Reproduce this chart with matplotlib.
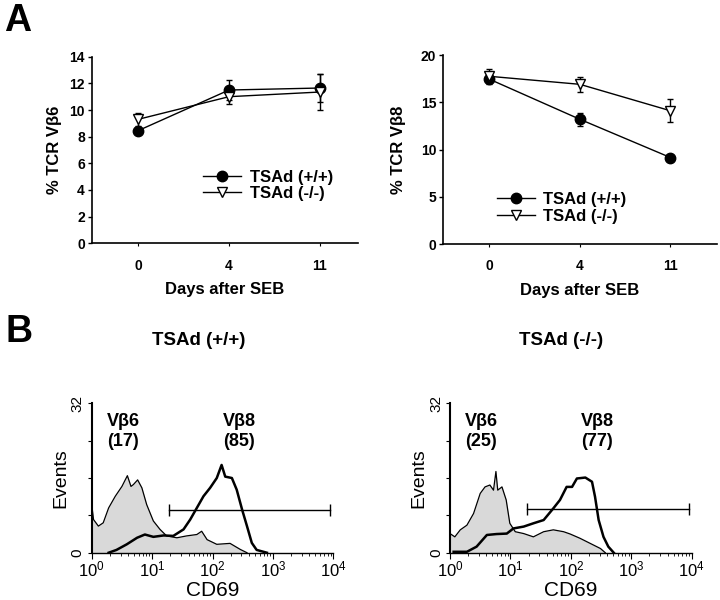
import numpy as np
import matplotlib.pyplot as plt
from matplotlib.ticker import LogLocator, LogFormatterSciNotation

plt.rcParams['font.family'] = ['Liberation Sans', 'DejaVu Sans']

# panel A: % TCR V beta after SEB
days = ['0', '4', '11']
vb6_wt = [8.45, 11.5, 11.65]
vb6_wt_err = [0.2, 0.75, 1.05]
vb6_ko = [9.3, 11.0, 11.35]
vb6_ko_err = [0.5, 0.55, 1.35]
vb8_wt = [17.45, 13.2, 9.15]
vb8_wt_err = [0.55, 0.7, 0.3]
vb8_ko = [17.75, 16.9, 14.1]
vb8_ko_err = [0.75, 0.8, 1.2]

# panel B: CD69 histograms (log10 CD69, events)
wt_vb6_logx = [0, 0.03, 0.11, 0.19, 0.28, 0.39, 0.5, 0.59, 0.65, 0.69, 0.76, 0.83, 0.91,
               1.02, 1.13, 1.24, 1.41, 1.57, 1.74, 1.82, 1.91, 2.07, 2.29, 2.46, 2.57]
wt_vb6_cnt = [10.3, 7.1, 5.7, 6.4, 9.6, 12.1, 14.2, 16.5, 14.2, 14.6, 15.6, 13.9, 10.3,
              6.8, 5.0, 3.6, 3.2, 3.6, 3.9, 4.6, 2.8, 1.8, 2.0, 0.7, 0]
wt_vb8_logx = [0.28, 0.41, 0.58, 0.75, 0.88, 1.02, 1.19, 1.35, 1.52, 1.63, 1.74, 1.85,
               1.96, 2.07, 2.15, 2.21, 2.32, 2.4, 2.49, 2.57, 2.65, 2.73, 2.9]
wt_vb8_cnt = [0, 0.6, 1.8, 3.2, 3.9, 3.4, 3.7, 3.6, 5.0, 7.1, 9.6, 12.1,
              13.9, 16.0, 18.8, 16.3, 16.0, 13.5, 9.2, 5.7, 2.1, 0.6, 0]
ko_vb6_logx = [0, 0.08, 0.17, 0.28, 0.39, 0.5, 0.58, 0.66, 0.72, 0.76, 0.79, 0.86, 0.93,
               0.99, 1.08, 1.22, 1.38, 1.55, 1.71, 1.88, 1.99, 2.15, 2.32, 2.49, 2.57]
ko_vb6_cnt = [4.1, 3.4, 4.9, 5.9, 8.4, 12.7, 14.1, 14.5, 13.4, 17.4, 13.4, 14.1, 11.3,
              6.3, 4.5, 4.1, 3.4, 4.5, 4.9, 4.5, 4.0, 3.1, 2.0, 0.9, 0]
ko_vb8_logx = [0.06, 0.28, 0.44, 0.61, 0.77, 0.94, 1.05, 1.22, 1.38, 1.55, 1.71, 1.82,
               1.93, 2.02, 2.1, 2.24, 2.35, 2.4, 2.46, 2.54, 2.62, 2.71]
ko_vb8_cnt = [0.2, 0.2, 1.3, 3.8, 4.0, 4.1, 5.2, 5.6, 6.3, 7.0, 9.5, 11.3,
              14.1, 14.1, 15.9, 16.1, 15.2, 12.0, 7.0, 3.4, 1.3, 0]
gate_wt = [19, 8900, 9.1]
gate_ko = [19, 8900, 9.4]
pct_wt = ['17', '85']
pct_ko = ['25', '77']
decades = [1, 10, 100, 1000, 10000]

fig = plt.figure(figsize=(7.2, 6), dpi=100)


def line_panel(ax, wt, wt_err, ko, ko_err, ymax, ystep, ylabel, xlim, leg_xy, ypad):
    x = np.arange(len(days))
    ax.errorbar(x, wt, yerr=wt_err, fmt='none', ecolor='black', elinewidth=1, capsize=2.5, zorder=2)
    ax.errorbar(x, ko, yerr=ko_err, fmt='none', ecolor='black', elinewidth=1, capsize=2.5, zorder=2)
    ax.plot(x, wt, color='black', lw=1, marker='o', ms=7.5, mfc='black', label='TSAd (+/+)', zorder=3)
    ax.plot(x, ko, color='black', lw=1, marker='v', ms=7.5, mfc='white', mew=1, label='TSAd (-/-)', zorder=4)
    ax.set_xlim(*xlim)
    ax.set_ylim(0, ymax)
    yt = np.arange(0, ymax + 1, ystep)
    ax.set_yticks(yt, [str(v) for v in yt], fontweight='bold', fontsize=10)
    ax.set_xticks(x, days, fontweight='bold', fontsize=10)
    ax.tick_params(axis='y', direction='out', length=3, width=1, pad=2)
    ax.tick_params(axis='x', direction='out', length=2, width=0.8, pad=9)
    for s in ['top', 'right']:
        ax.spines[s].set_visible(False)
    for s in ['left', 'bottom']:
        ax.spines[s].set_linewidth(1.2)
    ax.set_xlabel('Days after SEB', fontsize=12, fontweight='bold', labelpad=7)
    ax.set_ylabel(ylabel, fontsize=12, fontweight='bold', labelpad=ypad)
    ax.legend(loc='upper left', bbox_to_anchor=leg_xy, frameon=False,
              prop={'weight': 'bold', 'size': 12}, handlelength=2.3, handletextpad=0.5,
              labelspacing=0.1, borderpad=0, borderaxespad=0)


def hist_panel(ax, v6x, v6c, v8x, v8c, gate, pct, title_x, title):
    x6 = 10 ** np.array(v6x)
    x8 = 10 ** np.array(v8x)
    ax.fill_between(x6, v6c, 0, color='#d9d9d9', lw=0, zorder=1)
    ax.plot(x6, v6c, color='black', lw=0.9, zorder=2)
    ax.plot(x8, v8c, color='black', lw=1.8, zorder=3)
    ax.plot(gate[:2], [gate[2]] * 2, color='black', lw=1, marker='|', ms=8, mew=1, zorder=4)
    ax.set_xscale('log')
    ax.set_xlim(1, 1e4)
    ax.set_ylim(0, 32)
    ax.xaxis.set_major_locator(LogLocator(base=10, numticks=10))
    ax.xaxis.set_minor_locator(LogLocator(base=10, subs=np.arange(2, 10), numticks=10))
    ax.xaxis.set_major_formatter(LogFormatterSciNotation())
    ax.set_xticks(decades)
    ax.set_yticks([0, 8, 16, 24, 32], ['0', '', '', '', '32'], rotation=90, va='center', fontsize=11)
    ax.tick_params(axis='y', direction='out', length=3, width=0.8, pad=2)
    ax.tick_params(axis='x', which='major', direction='out', length=4, width=0.8, labelsize=12, pad=1)
    ax.tick_params(axis='x', which='minor', direction='out', length=2, width=0.6)
    for s in ['top', 'right']:
        ax.spines[s].set_visible(False)
    ax.spines['left'].set_linewidth(1.5)
    ax.spines['bottom'].set_linewidth(1)
    ax.set_xlabel('CD69', fontsize=15, labelpad=1)
    ax.set_ylabel('Events', fontsize=14, labelpad=1)
    ax.text(3.3, 26, 'V\u03b26\n(' + pct[0] + ')', ha='center', va='center', fontsize=13,
            fontweight='bold', linespacing=1.25)
    ax.text(275, 26, 'V\u03b28\n(' + pct[1] + ')', ha='center', va='center', fontsize=13,
            fontweight='bold', linespacing=1.25)
    fig.text(title_x, 0.432, title, ha='center', va='center', fontsize=13.5, fontweight='bold')


axA1 = fig.add_axes([0.1274, 0.5945, 0.37, 0.311])
axA2 = fig.add_axes([0.6157, 0.5933, 0.3797, 0.315])
axB1 = fig.add_axes([0.1274, 0.0788, 0.3356, 0.249])
axB2 = fig.add_axes([0.625, 0.0788, 0.3357, 0.249])

line_panel(axA1, vb6_wt, vb6_wt_err, vb6_ko, vb6_ko_err, 14, 2, '% TCR V\u03b26',
           (-0.51, 2.42), (0.418, 0.395), 5)
line_panel(axA2, vb8_wt, vb8_wt_err, vb8_ko, vb8_ko_err, 20, 5, '% TCR V\u03b28',
           (-0.507, 2.51), (0.195, 0.275), 11)

hist_panel(axB1, wt_vb6_logx, wt_vb6_cnt, wt_vb8_logx, wt_vb8_cnt, gate_wt, pct_wt, 0.276, 'TSAd (+/+)')
hist_panel(axB2, ko_vb6_logx, ko_vb6_cnt, ko_vb8_logx, ko_vb8_cnt, gate_ko, pct_ko, 0.779, 'TSAd (-/-)')

fig.text(0.006, 0.948, 'A', fontsize=27, fontweight='bold', va='baseline')
fig.text(0.008, 0.43, 'B', fontsize=27, fontweight='bold', va='baseline')

fig.savefig('out.png', dpi=100)
